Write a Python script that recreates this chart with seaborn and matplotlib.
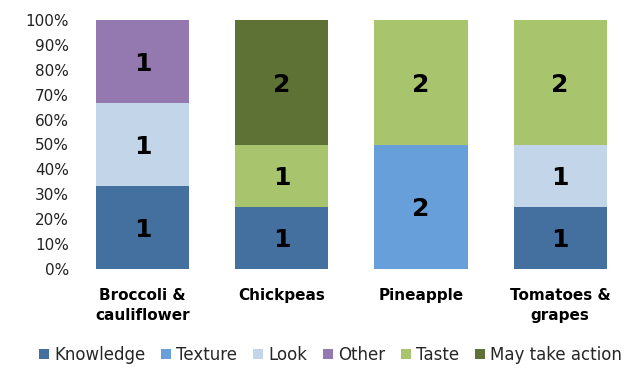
import matplotlib
matplotlib.use("Agg")
import matplotlib.pyplot as plt
from matplotlib.patches import Patch
import seaborn as sns
import pandas as pd
import numpy as np

categories = ["Broccoli &\ncauliflower", "Chickpeas", "Pineapple", "Tomatoes &\ngrapes"]
series = ["Knowledge", "Texture", "Look", "Other", "Taste", "May take action"]
knowledge = [1, 1, 0, 1]
texture = [0, 0, 2, 0]
look = [1, 0, 0, 1]
other = [1, 0, 0, 0]
taste = [0, 1, 2, 2]
may_take_action = [0, 2, 0, 0]
colors = ["#44709F", "#669FD9", "#C3D6E9", "#9479B0", "#A8C46C", "#5E7236"]

values = [knowledge, texture, look, other, taste, may_take_action]
rows = []
for s, vals in zip(series, values):
    for c, v in zip(categories, vals):
        rows.append({"category": c, "series": s, "count": v})
df = pd.DataFrame(rows)

sns.set_theme(style="white")
plt.rcParams["font.family"] = ["DejaVu Sans"]

fig = plt.figure(figsize=(6.27, 3.68), dpi=100)
ax = fig.add_axes([73 / 627, 99 / 368, 554 / 627, 249 / 368])

palette = dict(zip(series, colors))
sns.histplot(data=df, x="category", hue="series", weights="count",
             multiple="fill", discrete=True, shrink=0.67,
             hue_order=series[::-1], palette=palette, alpha=1,
             linewidth=0, legend=False, ax=ax)

# value labels
totals = np.sum(values, axis=0)
for i, c in enumerate(categories):
    bottom = 0.0
    for vals in values:
        v = vals[i]
        if v > 0:
            frac = v / totals[i]
            ax.text(i, bottom + frac / 2 - 0.01, str(v), ha="center", va="center",
                    fontsize=18, fontweight="bold", color="black")
            bottom += frac

ax.set_xlim(-0.5, 3.48)
ax.set_ylim(0, 1)
ax.set_yticks(np.arange(0, 1.01, 0.1))
ax.set_yticklabels([f"{int(round(t * 100))}%" for t in np.arange(0, 1.01, 0.1)],
                   fontsize=11, color="#222222")
ax.set_xticks(range(len(categories)))
ax.set_xticklabels(categories, fontsize=11, fontweight="bold", color="black",
                   linespacing=1.35)
ax.tick_params(axis="both", length=0, pad=3)
ax.tick_params(axis="x", pad=14)
ax.set_xlabel("")
ax.set_ylabel("")
for sp in ax.spines.values():
    sp.set_visible(False)
ax.grid(False)

handles = [Patch(facecolor=col, edgecolor="none", label=s) for s, col in zip(series, colors)]
fig.legend(handles=handles, loc="lower center", bbox_to_anchor=(0.527, -0.03), ncol=6,
           frameon=False, fontsize=12, handlelength=0.6, handleheight=0.6,
           handletextpad=0.3, columnspacing=0.95)

fig.savefig("out.png", dpi=100)
